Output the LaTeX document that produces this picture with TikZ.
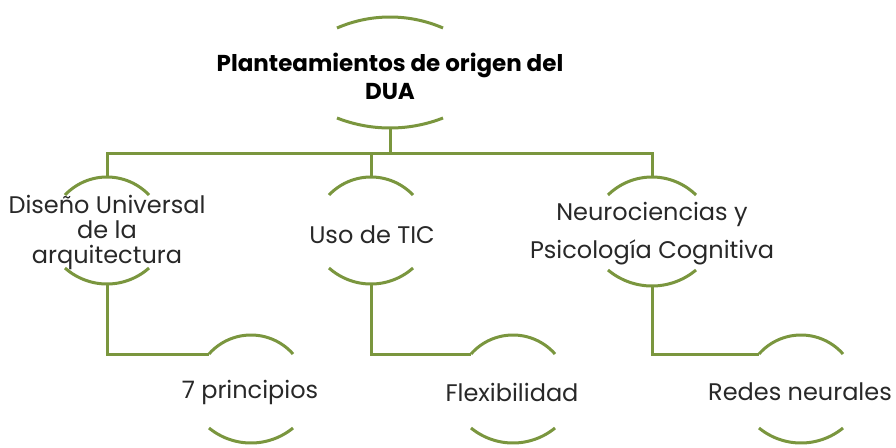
\documentclass[tikz,border=0pt]{standalone}
\usepackage{fontspec}
\setmainfont{Poppins}
\definecolor{dgreen}{RGB}{122,150,62}
\definecolor{txt}{RGB}{40,40,40}
\begin{document}
\begin{tikzpicture}[x=1pt,y=-1pt,
  arcline/.style={draw=dgreen,line width=3pt},
  conn/.style={draw=dgreen,line width=3pt},
  lbl/.style={text=txt,font=\fontsize{24}{25}\selectfont,align=center,inner sep=0pt},
  ttl/.style={text=black,font=\fontsize{23}{28}\bfseries\selectfont,align=center,inner sep=0pt}]
\useasboundingbox[fill=white] (0,0) rectangle (896,447);
% arc pair: centre x, half width, top end y, top peak y, bottom end y, bottom low y
\newcommand\arcpair[6]{%
  \pgfmathsetmacro\sagA{#3-#4}%
  \pgfmathsetmacro\radA{(#2*#2+\sagA*\sagA)/(2*\sagA)}%
  \pgfmathsetmacro\angA{asin(#2/\radA)}%
  \draw[arcline] plot[domain=-\angA:\angA,samples=40,smooth] ({#1+\radA*sin(\x)},{#4+\radA-\radA*cos(\x)});
  \pgfmathsetmacro\sagB{#6-#5}%
  \pgfmathsetmacro\radB{(#2*#2+\sagB*\sagB)/(2*\sagB)}%
  \pgfmathsetmacro\angB{asin(#2/\radB)}%
  \draw[arcline] plot[domain=-\angB:\angB,samples=40,smooth] ({#1+\radB*sin(\x)},{#6-\radB+\radB*cos(\x)});}
% top node
\node[ttl] (T) at (390,76) {Planteamientos de origen del\\DUA};
\arcpair{390}{53}{28}{17}{118}{128}
\coordinate (Tbot) at (390,128);
% level 2
\node[lbl] (A) at (107,232) {Diseño Universal\\de la\\arquitectura};
\arcpair{107}{42}{195}{177}{268}{284}
\coordinate (Atop) at (107,177); \coordinate (Abot) at (107,284);
\node[lbl] (B) at (372,235) {Uso de TIC};
\arcpair{371}{42}{195}{177}{268}{284}
\coordinate (Btop) at (371,177); \coordinate (Bbot) at (371,284);
\node[lbl] (C) at (652,234) {Neurociencias y\\[13pt]Psicología Cognitiva};
\arcpair{652}{44}{195}{177}{270}{286}
\coordinate (Ctop) at (652,177); \coordinate (Cbot) at (652,286);
% level 3
\node[lbl] (P) at (250,392) {7 principios};
\arcpair{251}{42}{354}{335}{428}{443}
\coordinate (Pl) at (209,354);
\node[lbl] (F) at (512,392) {Flexibilidad};
\arcpair{513}{42}{354}{335}{428}{443}
\coordinate (Fl) at (471,354);
\node[lbl] (R) at (800,392) {Redes neurales};
\arcpair{801}{42}{354}{335}{428}{443}
\coordinate (Rl) at (759,354);
% connectors
\coordinate (busL) at (107,153); \coordinate (busR) at (652,153);
\draw[conn] (Tbot) -- (Tbot |- busL);
\draw[conn,line cap=rect] (busL) -- (busR);
\draw[conn] (busL) -- (Atop);
\draw[conn] (Btop |- busL) -- (Btop);
\draw[conn] (busR) -- (Ctop);
\draw[conn] (Abot) |- (Pl);
\draw[conn] (Bbot) |- (Fl);
\draw[conn] (Cbot) |- (Rl);
\end{tikzpicture}
\end{document}
